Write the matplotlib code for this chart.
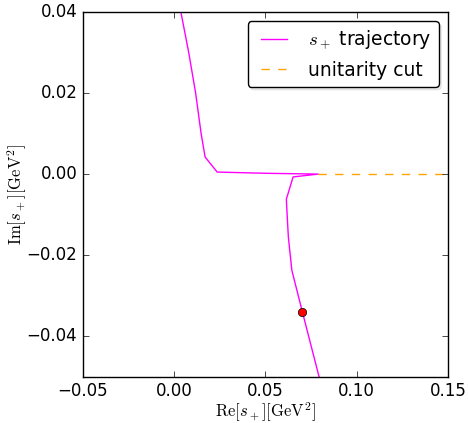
import matplotlib
matplotlib.use('Agg')
import matplotlib.pyplot as plt
from matplotlib.ticker import FuncFormatter

plt.style.use('classic')
plt.rcParams['mathtext.fontset'] = 'cm'

# trajectory of the pole s_+ in the complex plane
re_s = [0.0037, 0.0080, 0.0118, 0.0148, 0.0170, 0.0236, 0.0500, 0.0790,
        0.0652, 0.0615, 0.0621, 0.0626, 0.0645, 0.0703, 0.0795]
im_s = [0.0400, 0.0300, 0.0200, 0.0100, 0.0042, 0.0005, 0.0002, 0.0000,
        -0.0007, -0.0062, -0.0114, -0.0155, -0.0237, -0.0340, -0.0501]

# unitarity cut
cut_re = [0.079, 0.15]
cut_im = [0.0, 0.0]

# marked point
pt_re = [0.0703]
pt_im = [-0.0339]


def fmt(v, pos):
    return ('%.2f' % v).replace('-', '\u2212')


fig = plt.figure(figsize=(4.68, 4.23), dpi=100, facecolor='white')
ax = fig.add_axes([0.177, 0.109, 0.78, 0.863])
ax.plot(re_s, im_s, color='magenta', lw=1, label=r'$s_+$ trajectory')
ax.plot(cut_re, cut_im, color='orange', ls='--', lw=1, label='unitarity cut')
ax.plot(pt_re, pt_im, 'o', color='red', mec='black', ms=6)
ax.set_xlim(-0.05, 0.15)
ax.set_ylim(-0.05, 0.04)
ax.set_xticks([-0.05, 0.0, 0.05, 0.10, 0.15])
ax.set_yticks([-0.04, -0.02, 0.0, 0.02, 0.04])
ax.xaxis.set_major_formatter(FuncFormatter(fmt))
ax.yaxis.set_major_formatter(FuncFormatter(fmt))
ax.set_xlabel(r'$\mathrm{Re}[s_+][\mathrm{GeV}^2]$', labelpad=0)
ax.set_ylabel(r'$\mathrm{Im}[s_+][\mathrm{GeV}^2]$')
ax.yaxis.set_label_coords(-0.147, 0.5)
ax.legend(loc='upper right', fancybox=True, fontsize=13.5,
          shadow={'color': '0.85'})
fig.savefig('out.png', dpi=100, facecolor='white')
